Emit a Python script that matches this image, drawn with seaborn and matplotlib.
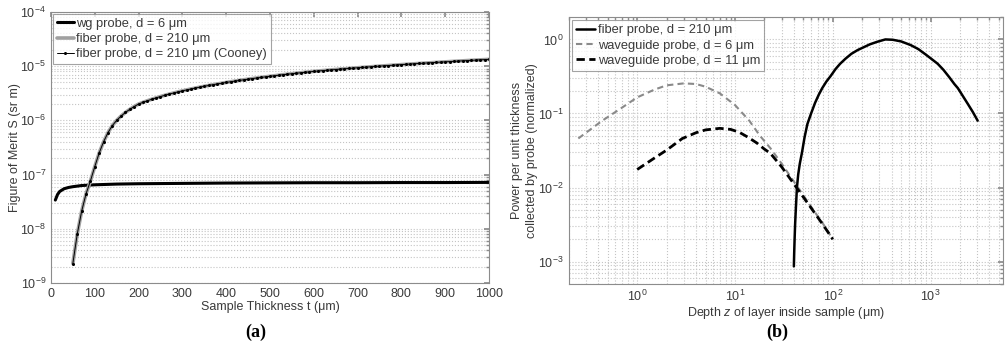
import numpy as np
import matplotlib
matplotlib.use("Agg")
import matplotlib.pyplot as plt
import matplotlib.ticker as mticker
import seaborn as sns

# (a) figure of merit vs sample thickness
wg_t = [10, 15, 20, 30, 40, 50, 70, 100, 150, 200, 300, 400, 500, 600, 700, 800, 900, 1000]
wg_s = [3.4e-8, 4.3e-8, 4.9e-8, 5.5e-8, 5.8e-8, 6.0e-8, 6.3e-8, 6.5e-8, 6.7e-8, 6.8e-8,
        6.9e-8, 7.0e-8, 7.05e-8, 7.1e-8, 7.1e-8, 7.15e-8, 7.15e-8, 7.2e-8]

fiber_t = list(range(50, 1001, 10))
fiber_s = [2.3e-9, 8.0e-9, 2.1e-8, 4.4e-8, 7.6e-8, 1.4e-7, 2.5e-7, 4.0e-7, 5.9e-7, 8.0e-7,
           1.0e-6, 1.2e-6, 1.4e-6, 1.6e-6, 1.8e-6, 2.0e-6, 2.15e-6, 2.3e-6, 2.45e-6, 2.6e-6,
           2.75e-6, 2.9e-6, 3.05e-6, 3.2e-6, 3.35e-6, 3.5e-6, 3.65e-6, 3.8e-6, 3.95e-6, 4.1e-6,
           4.25e-6, 4.4e-6, 4.55e-6, 4.7e-6, 4.85e-6, 5.0e-6, 5.15e-6, 5.3e-6, 5.45e-6, 5.6e-6,
           5.75e-6, 5.9e-6, 6.05e-6, 6.2e-6, 6.35e-6, 6.5e-6, 6.65e-6, 6.8e-6, 6.95e-6, 7.1e-6,
           7.25e-6, 7.4e-6, 7.55e-6, 7.7e-6, 7.85e-6, 8.0e-6, 8.13e-6, 8.27e-6, 8.4e-6, 8.53e-6,
           8.67e-6, 8.8e-6, 8.93e-6, 9.07e-6, 9.2e-6, 9.33e-6, 9.47e-6, 9.6e-6, 9.73e-6, 9.87e-6,
           1.0e-5, 1.013e-5, 1.027e-5, 1.04e-5, 1.053e-5, 1.067e-5, 1.08e-5, 1.093e-5, 1.107e-5, 1.12e-5,
           1.133e-5, 1.147e-5, 1.16e-5, 1.173e-5, 1.187e-5, 1.2e-5, 1.213e-5, 1.227e-5, 1.24e-5, 1.253e-5,
           1.267e-5, 1.28e-5, 1.293e-5, 1.307e-5, 1.32e-5, 1.333e-5]

# (b) power per unit thickness vs depth
fib_z = [40, 40.3, 40.7, 41.2, 42, 43, 44.3, 46, 48.5, 51.5, 55, 60, 66, 72, 78, 86, 95, 107,
         119, 135, 155, 180, 205, 240, 285, 345, 410, 500, 625, 750, 900, 1050, 1180, 1350,
         1550, 1750, 1900, 2150, 2400, 2700, 3030]
fib_p = [8.6e-4, 1.3e-3, 2e-3, 3.2e-3, 5.5e-3, 1e-2, 1.5e-2, 2.1e-2, 3e-2, 4.8e-2, 7.2e-2,
         0.1, 0.14, 0.18, 0.22, 0.27, 0.32, 0.4, 0.47, 0.55, 0.64, 0.72, 0.78, 0.86, 0.93,
         1.0, 0.99, 0.94, 0.84, 0.74, 0.62, 0.53, 0.47, 0.39, 0.31, 0.25, 0.22, 0.17, 0.135,
         0.105, 0.08]

wg6_z = [0.25, 0.44, 0.7, 1.0, 1.5, 2.0, 3.0, 4.0, 5.0, 7.0, 10, 14, 18, 23, 30, 43, 60, 80, 100]
wg6_p = [0.046, 0.08, 0.12, 0.165, 0.21, 0.24, 0.255, 0.25, 0.23, 0.187, 0.13, 0.08, 0.05,
         0.034, 0.021, 0.0105, 0.0055, 0.0032, 0.002]

wg11_z = [1.0, 1.5, 2.0, 2.9, 4.0, 5.0, 7.0, 9.0, 11, 13.5, 16.7, 20, 23, 30, 43, 60, 80, 100]
wg11_p = [0.0175, 0.025, 0.032, 0.046, 0.055, 0.06, 0.063, 0.061, 0.056, 0.048, 0.04, 0.033,
          0.029, 0.019, 0.0098, 0.0053, 0.0031, 0.002]

sns.set_theme(style="white")
plt.rcParams['font.family'] = ['Liberation Sans', 'DejaVu Sans']
plt.rcParams['mathtext.fontset'] = 'custom'
plt.rcParams['mathtext.rm'] = 'Liberation Sans'
plt.rcParams['mathtext.it'] = 'Liberation Sans:italic'
plt.rcParams['mathtext.default'] = 'regular'

txt = '#3a3a3a'
edge = '#8c8c8c'
gridc = '#c4c4c4'

fig = plt.figure(figsize=(10.05, 3.5), dpi=100)
ax1 = fig.add_axes([0.0507, 0.191, 0.4358, 0.775])
ax2 = fig.add_axes([0.566, 0.189, 0.432, 0.762])


def style_axes(ax):
    for s in ax.spines.values():
        s.set_color(edge)
        s.set_linewidth(0.8)
    ax.tick_params(which='both', direction='in', top=True, right=True,
                   colors=edge, labelcolor=txt, labelsize=9)
    ax.tick_params(which='major', length=3.5)
    ax.tick_params(which='minor', length=2)


# --- panel (a) ---
sns.lineplot(x=wg_t, y=wg_s, ax=ax1, color='black', lw=2.2, label='wg probe, d = 6 μm')
sns.lineplot(x=fiber_t, y=fiber_s, ax=ax1, color='#a0a0a0', lw=2.6, label='fiber probe, d = 210 μm')
sns.lineplot(x=fiber_t, y=fiber_s, ax=ax1, color='black', lw=0.7, marker='o', markersize=2.2,
             markeredgewidth=0, label='fiber probe, d = 210 μm (Cooney)')
ax1.set_yscale('log')
ax1.set_xlim(0, 1000)
ax1.set_ylim(1e-9, 1e-4)
ax1.set_xticks(range(0, 1001, 100))
ax1.yaxis.set_major_locator(mticker.LogLocator(base=10, numticks=10))
ax1.yaxis.set_minor_locator(mticker.LogLocator(base=10, subs=np.arange(2, 10), numticks=10))
ax1.yaxis.set_minor_formatter(mticker.NullFormatter())
ax1.grid(True, which='both', axis='y', color=gridc, linestyle=':', lw=0.8)
ax1.grid(False, axis='x')
style_axes(ax1)
ax1.set_xlabel('Sample Thickness t (μm)', fontsize=9, color=txt, labelpad=1)
ax1.set_ylabel('Figure of Merit S (sr m)', fontsize=9, color=txt)
ax1.yaxis.set_label_coords(-0.068, 0.5)
leg1 = ax1.legend(loc='upper left', fontsize=9.3, frameon=True, fancybox=False,
                  handlelength=1.3, handletextpad=0.2, borderpad=0.3, labelspacing=0.25,
                  borderaxespad=0.15)
leg1.get_frame().set_edgecolor(edge)
leg1.get_frame().set_linewidth(0.8)
for t in leg1.get_texts():
    t.set_color(txt)

# --- panel (b) ---
sns.lineplot(x=fib_z, y=fib_p, ax=ax2, color='black', lw=1.8, label='fiber probe, d = 210 μm')
sns.lineplot(x=wg6_z, y=wg6_p, ax=ax2, color='#8a8a8a', lw=1.5, linestyle=(0, (3, 2)),
             label='waveguide probe, d = 6 μm')
sns.lineplot(x=wg11_z, y=wg11_p, ax=ax2, color='black', lw=2.0, linestyle=(0, (3, 1.6)),
             label='waveguide probe, d = 11 μm')
ax2.set_xscale('log')
ax2.set_yscale('log')
ax2.set_xlim(0.2, 5500)
ax2.set_ylim(5e-4, 2)
for axis in (ax2.xaxis, ax2.yaxis):
    axis.set_major_locator(mticker.LogLocator(base=10, numticks=12))
    axis.set_minor_locator(mticker.LogLocator(base=10, subs=np.arange(2, 10), numticks=12))
    axis.set_minor_formatter(mticker.NullFormatter())
ax2.grid(True, which='both', color=gridc, linestyle=':', lw=0.8)
style_axes(ax2)
ax2.set_xlabel(r'Depth $\mathit{z}$ of layer inside sample (μm)', fontsize=9, color=txt, labelpad=1)
ax2.set_ylabel('Power per unit thickness\ncollected by probe (normalized)', fontsize=9,
               color=txt, linespacing=1.3)
ax2.yaxis.set_label_coords(-0.072, 0.5)
leg2 = ax2.legend(loc='upper left', fontsize=9.3, frameon=True, fancybox=False,
                  handlelength=1.5, handletextpad=0.2, borderpad=0.3, labelspacing=0.25,
                  borderaxespad=0.25)
leg2.get_frame().set_edgecolor(edge)
leg2.get_frame().set_linewidth(0.8)
for t in leg2.get_texts():
    t.set_color(txt)

fig.text(0.254, 0.05, '(a)', ha='center', va='center', fontsize=13, fontweight='bold',
         family=['Liberation Serif', 'DejaVu Serif'], color='black')
fig.text(0.773, 0.05, '(b)', ha='center', va='center', fontsize=13, fontweight='bold',
         family=['Liberation Serif', 'DejaVu Serif'], color='black')

fig.savefig('out.png', dpi=100, facecolor='white')
